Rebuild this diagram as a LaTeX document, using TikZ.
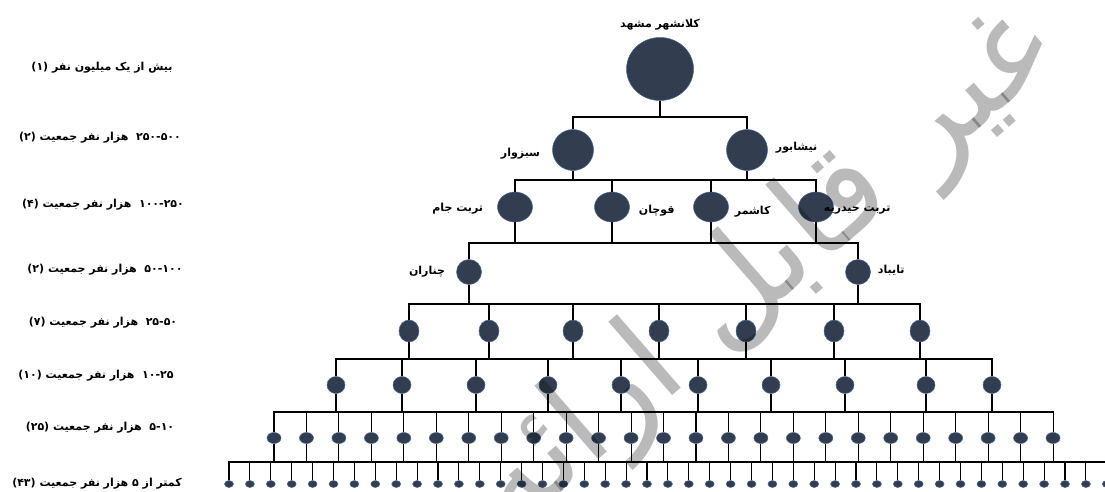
\documentclass[tikz,border=0pt]{standalone}
\usepackage{fontspec}
\usetikzlibrary{positioning}
\usetikzlibrary{shapes.geometric}
\newfontfamily\farsi[Script=Arabic]{DejaVu Sans}
\TeXXeTstate=1
\newcommand\fatext[1]{\beginR #1\endR}
\definecolor{towncol}{RGB}{50,62,80}
\definecolor{townrim}{RGB}{70,102,150}
\tikzset{
	town/.style 2 args={ellipse, draw=townrim, line width=0.5pt, fill=towncol,
		inner sep=0pt, minimum width=#1, minimum height=#2},
	tag/.style={font=\farsi\bfseries\fontsize{11}{13}\selectfont, inner sep=0pt},
}

\begin{document}
\begin{tikzpicture}[x=1pt, y=-1pt,
	link/.style={line width=1.1pt},
	bus/.style={line width=1.1pt, line cap=rect},
	stamp/.style={rotate=41, text=black, opacity=.27,
		font=\farsi\fontsize{128}{140}\selectfont}]
	
	% canvas
	\useasboundingbox (0,0) rectangle (1105,491);
	\clip (0,0) rectangle (1105,491);
	
	% bus heights
	\coordinate (bus1) at (0,117);
	\coordinate (bus2) at (0,180);
	\coordinate (bus3) at (0,243);
	\coordinate (bus4) at (0,304);
	\coordinate (bus5) at (0,359);
	\coordinate (bus6) at (0,412);
	\coordinate (bus7) at (0,462);
	
	% towns
	\node[town={67pt}{63pt}] (A1) at (660,69) {};
	\node[town={41pt}{41pt}] (B1) at (573,150) {};
	\node[town={41pt}{41pt}] (B2) at (747,150) {};
	\foreach \x [count=\i] in {515,612,711,816}
	\node[town={35pt}{30pt}] (C\i) at (\x,207) {};
	\node[town={25pt}{25pt}] (D1) at (469,272) {};
	\node[town={25pt}{25pt}] (D2) at (858,272) {};
	\foreach \x [count=\i] in {409,489,573,659,746,834,920}
	\node[town={20pt}{22pt}] (E\i) at (\x,331) {};
	\foreach \x [count=\i] in {336,402,476,548,621,698,771,845,926,992}
	\node[town={18pt}{17pt}] (F\i) at (\x,385) {};
	\foreach \i in {1,...,25}
	\node[town={14pt}{11pt}] (G\i) at ({274+32.46*(\i-1)},438) {};
	\foreach \i in {1,...,43}
	\node[town={9pt}{7pt}] (H\i) at ({229+20.9*(\i-1)},484) {};
	
	% stems
	\draw[link] (A1.south) -- (A1.south |- bus1);
	\foreach \i in {1,2} {
		\draw[link] (B\i.north) -- (B\i.north |- bus1);
		\draw[link] (B\i.south) -- (B\i.south |- bus2);}
	\foreach \i in {1,...,4} {
		\draw[link] (C\i.north) -- (C\i.north |- bus2);
		\draw[link] (C\i.south) -- (C\i.south |- bus3);}
	\foreach \i in {1,2} {
		\draw[link] (D\i.north) -- (D\i.north |- bus3);
		\draw[link] (D\i.south) -- (D\i.south |- bus4);}
	\foreach \i in {1,...,7} {
		\draw[link] (E\i.north) -- (E\i.north |- bus4);
		\draw[link] (E\i.south) -- (E\i.south |- bus5);}
	\foreach \i in {1,...,10} {
		\draw[link] (F\i.north) -- (F\i.north |- bus5);
		\draw[link] (F\i.south) -- (F\i.south |- bus6);}
	\foreach \i in {1,...,25} {
		\draw[link] (G\i.north) -- (G\i.north |- bus6);
		\draw[link] (G\i.south) -- (G\i.south |- bus7);}
	\foreach \i in {1,...,43}
	\draw[link] (H\i.north) -- (H\i.north |- bus7);
	
	% buses
	\draw[bus] (B1 |- bus1) -- (B2 |- bus1);
	\draw[bus] (C1 |- bus2) -- (C4 |- bus2);
	\draw[bus] (D1 |- bus3) -- (D2 |- bus3);
	\draw[bus] (E1 |- bus4) -- (E7 |- bus4);
	\draw[bus] (F1 |- bus5) -- (F10 |- bus5);
	\draw[bus] (G1 |- bus6) -- (G25 |- bus6);
	\draw[bus] (H1 |- bus7) -- (H43 |- bus7);
	
	% town names
	\node[tag, above=7pt of A1] (A1tag) {\fatext{کلانشهر مشهد}};
	\node[tag, left=12pt of B1, yshift=-4pt] (B1tag) {\fatext{سبزوار}};
	\node[tag, right=8pt of B2, yshift=2pt] (B2tag) {\fatext{نیشابور}};
	\node[tag, left=14pt of C1, yshift=-2pt] (C1tag) {\fatext{تربت جام}};
	\node[tag, right=9pt of C2, yshift=-4pt] (C2tag) {\fatext{قوچان}};
	\node[tag, right=6pt of C3, yshift=-5pt] (C3tag) {\fatext{کاشمر}};
	\node[tag, right=-10pt of C4, yshift=-3pt] (C4tag) {\fatext{تربت حیدریه}};
	\node[tag, left=11pt of D1] (D1tag) {\fatext{چناران}};
	\node[tag, right=7pt of D2, yshift=2pt] (D2tag) {\fatext{تایباد}};
	
	% population bands
	\node[tag] (band1) at (102,68) {\fatext{بیش از یک میلیون نفر \beginL(۱)\endL}};
	\node[tag] (band2) at (100,138) {\fatext{\beginL ۲۵۰-۵۰۰\endL\ \ هزار نفر جمعیت \beginL(۲)\endL}};
	\node[tag] (band3) at (103,205) {\fatext{\beginL ۱۰۰-۲۵۰\endL\ \ هزار نفر جمعیت \beginL(۴)\endL}};
	\node[tag] (band4) at (105,270) {\fatext{\beginL ۵۰-۱۰۰\endL\ \ هزار نفر جمعیت \beginL(۲)\endL}};
	\node[tag] (band5) at (103,323) {\fatext{\beginL ۲۵-۵۰\endL\ \ هزار نفر جمعیت \beginL(۷)\endL}};
	\node[tag] (band6) at (96,376) {\fatext{\beginL ۱۰-۲۵\endL\ \ هزار نفر جمعیت \beginL(۱۰)\endL}};
	\node[tag] (band7) at (100,428) {\fatext{\beginL ۵-۱۰\endL\ \ هزار نفر جمعیت \beginL(۲۵)\endL}};
	\node[tag] (band8) at (97,484) {\fatext{کمتر از \beginL۵\endL{} هزار نفر جمعیت \beginL(۴۳)\endL}};
	
	% watermark
	\node[stamp] (wm) at (764,272) {\fatext{غیر قابل ارائه}};
\end{tikzpicture}
\end{document}
